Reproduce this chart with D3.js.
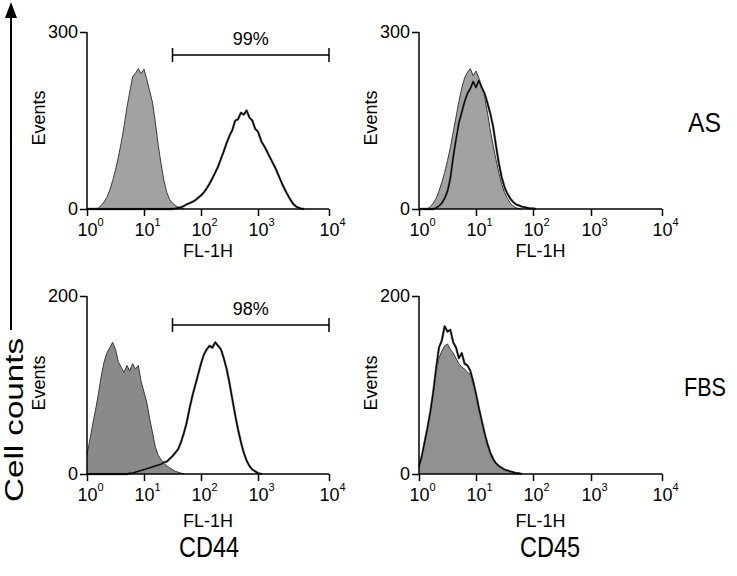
<!DOCTYPE html>
<html>
<head>
<meta charset="utf-8">
<script src="https://cdn.jsdelivr.net/npm/d3@7/dist/d3.min.js"></script>
<style>
  html, body { margin: 0; padding: 0; background: #fff; }
  svg { display: block; font-family: "Liberation Sans", Arial, Helvetica, sans-serif; }
</style>
</head>
<body>
<svg id="chart" width="737" height="576"></svg>
<script>
// ---- data (histogram counts per 0.05-decade channel bin, starting at 10^0) ----
const binDecades = 0.05;
const decadeTicks = [0, 1, 2, 3, 4];          // 10^0 .. 10^4
const rowLabels = ["AS", "FBS"];
const colLabels = ["CD44", "CD45"];
const yMaxTop = 300, yMaxBottom = 200;
const gatePct = ["99%", "98%"];
const gateRange = [1.5, 4];                    // gate from ~10^1.5 to 10^4

// AS, CD44
const asCd44Iso = [0,0,0,0,2,6,12,20,32,48,66,88,112,140,172,198,224,230,238,229,237,219,200,180,146,108,76,48,28,16,10,6,3,1,0];
const asCd44Ab  = [0,0,0,0,0,0,0,0,0,0,0,0,0,0,0,0,0,0,0,0,0,0,0,0,0,0,0,0,0,0,
                   0,1,2,3,5,8,10,12,15,19,23,28,35,43,52,62,72,85,98,112,124,134,150,152,163,160,167,155,150,136,131,114,104,92,80,68,54,40,28,17,8,3,1,0];
// AS, CD45
const asCd45Iso = [0,0,0,1,4,10,18,30,45,62,82,104,130,156,182,205,222,232,238,226,234,222,208,190,164,134,108,84,62,42,28,18,10,5,2,1,0];
const asCd45Ab  = [0,0,0,0,0,0,2,5,10,18,30,52,88,118,146,164,182,196,204,216,206,218,206,196,180,162,140,108,78,54,37,26,18,12,8,6,4,3,2,1,1,0];
// FBS, CD44
const fbsCd44Iso = [22,38,56,72,90,110,126,136,142,148,140,126,120,114,122,116,124,118,122,104,92,80,62,46,30,21,16,12,9,7,5,3,2,1,0];
const fbsCd44Ab  = [0,0,0,0,0,0,0,0,0,0,0,0,0,0,0,1,1,2,3,4,5,6,7,8,9,10,11,13,14,17,20,24,28,36,46,58,74,88,100,112,124,134,140,144,142,148,144,140,130,118,102,84,66,50,36,24,15,9,5,3,1,0];
// FBS, CD45
const fbsCd45Iso = [10,22,38,54,70,90,114,130,138,144,146,140,136,130,124,120,118,114,112,100,88,72,58,44,32,22,15,11,8,6,4,3,2,1,1,0];
const fbsCd45Ab  = [8,20,36,52,70,92,118,142,150,166,160,162,148,142,130,136,124,122,116,104,90,74,60,46,34,24,17,12,9,7,5,4,3,2,1,1,0];

// ---- layout ----
const svg = d3.select("#chart");
const panels = [
  { iso: asCd44Iso,  ab: asCd44Ab,  xr: [87,144,201,258,329], yr: [209,32],  ymax: yMaxTop,    gate: gatePct[0], gateY: 55,  fill: "#a2a2a2", evY: 118, flY: 257 },
  { iso: asCd45Iso,  ab: asCd45Ab,  xr: [419,476,533,591,662], yr: [209,32], ymax: yMaxTop,    gate: null,       gateY: 0,   fill: "#a2a2a2", evY: 118, flY: 257 },
  { iso: fbsCd44Iso, ab: fbsCd44Ab, xr: [87,144,201,258,329], yr: [474,296], ymax: yMaxBottom, gate: gatePct[1], gateY: 325, fill: "#8a8a8a", evY: 383, flY: 527 },
  { iso: fbsCd45Iso, ab: fbsCd45Ab, xr: [419,476,533,591,662], yr: [474,296], ymax: yMaxBottom, gate: null,      gateY: 0,   fill: "#919191", evY: 383, flY: 527 }
];

panels.forEach(p => {
  const x = d3.scaleLinear().domain(decadeTicks).range(p.xr);
  const y = d3.scaleLinear().domain([0, p.ymax]).range(p.yr);
  const g = svg.append("g");

  const area = d3.area().x((d, i) => x(i * binDecades)).y0(y(0)).y1(d => y(d));
  const line = d3.line().x((d, i) => x(i * binDecades)).y(d => y(d));

  g.append("path").datum(p.iso).attr("d", area).attr("fill", p.fill).attr("stroke", "none");
  g.append("path").datum(p.iso).attr("d", line).attr("fill", "none").attr("stroke", "#3a3a3a").attr("stroke-width", 1);
  g.append("path").datum(p.ab).attr("d", line).attr("fill", "none").attr("stroke", "#777").attr("stroke-width", 2.4).attr("stroke-linejoin", "round");
  g.append("path").datum(p.ab).attr("d", line).attr("fill", "none").attr("stroke", "#000").attr("stroke-width", 1.3).attr("stroke-linejoin", "round");

  // y axis
  const ya = g.append("g").attr("transform", `translate(${p.xr[0]},0)`)
    .call(d3.axisLeft(y).tickValues([0, p.ymax]).tickSize(7).tickSizeOuter(0).tickPadding(2));
  ya.selectAll("path,line").attr("stroke", "#000").attr("stroke-width", 1.5);
  ya.selectAll("text").attr("font-size", 18).attr("fill", "#000").attr("font-family", null);
  ya.select(".domain").attr("d", `M0,${p.yr[0]}V${p.yr[1]}`);

  // x axis
  const xa = g.append("g").attr("transform", `translate(0,${p.yr[0]})`)
    .call(d3.axisBottom(x).tickValues(decadeTicks).tickSize(7).tickSizeOuter(0).tickFormat(""));
  xa.selectAll("path,line").attr("stroke", "#000").attr("stroke-width", 1.5);
  xa.select(".domain").attr("d", `M${p.xr[0]},0H${p.xr[4]}`);
  xa.selectAll(".tick").each(function(d) {
    const t = d3.select(this).select("text").attr("text-anchor", "start").attr("x", -10).attr("y", 27).attr("dy", null)
      .attr("font-size", 18).attr("fill", "#000").attr("font-family", null);
    t.text(null);
    t.append("tspan").text("10");
    t.append("tspan").attr("font-size", 11).attr("dy", -10).text(String(d));
  });

  g.append("text").attr("x", (p.xr[0] + p.xr[4]) / 2).attr("y", p.flY)
    .attr("text-anchor", "middle").attr("font-size", 18).text("FL-1H");

  g.append("text").attr("transform", `translate(${p.xr[0] - 42},${p.evY}) rotate(-90)`)
    .attr("text-anchor", "middle").attr("font-size", 18).text("Events");

  if (p.gate) {
    const gy = p.gateY;
    const gx0 = x(gateRange[0]), gx1 = x(gateRange[1]);
    g.append("path").attr("d", `M${gx0},${gy}H${gx1}M${gx0},${gy - 7}V${gy + 7}M${gx1},${gy - 7}V${gy + 7}`)
      .attr("stroke", "#000").attr("stroke-width", 1.5).attr("fill", "none");
    g.append("text").attr("x", (gx0 + gx1) / 2).attr("y", gy - 10).attr("text-anchor", "middle")
      .attr("font-size", 18).text(p.gate);
  }
});

// row labels
svg.append("text").attr("x", 688).attr("y", 132).attr("font-size", 27).attr("textLength", 33).attr("lengthAdjust", "spacingAndGlyphs").text(rowLabels[0]);
svg.append("text").attr("x", 684).attr("y", 396).attr("font-size", 25).attr("textLength", 42).attr("lengthAdjust", "spacingAndGlyphs").text(rowLabels[1]);
// column labels
svg.append("text").attr("x", 179).attr("y", 557).attr("font-size", 30).attr("textLength", 60).attr("lengthAdjust", "spacingAndGlyphs").text(colLabels[0]);
svg.append("text").attr("x", 520).attr("y", 557).attr("font-size", 30).attr("textLength", 60).attr("lengthAdjust", "spacingAndGlyphs").text(colLabels[1]);

// Cell counts arrow + label
svg.append("path").attr("d", "M11,330V16").attr("stroke", "#000").attr("stroke-width", 2);
svg.append("path").attr("d", "M11,2L5,18H17Z").attr("fill", "#000");
svg.append("text").attr("transform", "translate(23,420) rotate(-90)").attr("text-anchor", "middle")
  .attr("font-size", 25).attr("textLength", 164).attr("lengthAdjust", "spacingAndGlyphs").text("Cell counts");
</script>
</body>
</html>
